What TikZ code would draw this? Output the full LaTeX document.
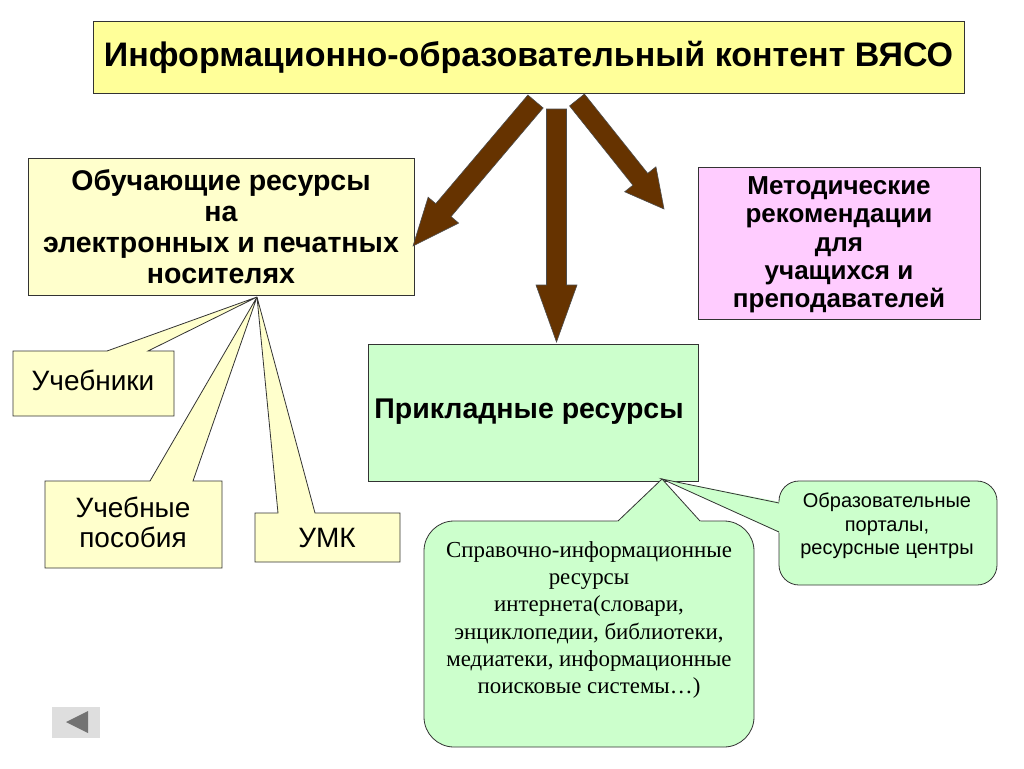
\documentclass[tikz,border=0pt]{standalone}
\usepackage{fontspec}
\setmainfont{Liberation Sans}
\newfontfamily\seriffont{Liberation Serif}
\usetikzlibrary{calc}
\definecolor{ttl}{HTML}{FFFF99}
\definecolor{pale}{HTML}{FFFFCC}
\definecolor{pinkb}{HTML}{FFCCFF}
\definecolor{greenb}{HTML}{CCFFCC}
\definecolor{brownA}{HTML}{663300}
\begin{document}
\begin{tikzpicture}[x=1pt,y=-1pt,
  box/.style={draw=black!80, line width=0.8pt, inner sep=0pt, align=center},
  callout/.style={fill=pale, draw=black!80, line width=0.8pt},
  bubble/.style={fill=greenb, draw=black!80, line width=0.8pt},
  blockarr/.style={fill=brownA, draw=black!70, line width=0.6pt},
  txt/.style={inner sep=0pt, align=center}]
\useasboundingbox (0,0) rectangle (1024,768);
\fill[white] (0,0) rectangle (1024,768);

% title
\node[box, fill=ttl, minimum width=871, minimum height=72,
  font=\bfseries\fontsize{34}{38}\selectfont] (title) at (528.5,57)
  {Информационно-образовательный контент ВЯСО};

% main boxes
\node[box, fill=pale, minimum width=386, minimum height=137,
  font=\bfseries\fontsize{28.5}{31}\selectfont] (learn) at (221,226.5)
  {Обучающие ресурсы\\на\\электронных и печатных\\носителях};
\node[box, fill=pinkb, minimum width=282, minimum height=152] (method) at (839,243) {};
\node[txt, font=\bfseries\fontsize{26}{28.3}\selectfont] (methodtxt) at (839,245)
  {Методические\\рекомендации\\для\\учащихся и\\преподавателей};
\node[box, fill=greenb, minimum width=330, minimum height=137] (applied) at (533,412.5) {};
\node[txt, font=\bfseries\fontsize{28.5}{32}\selectfont] (appliedtxt) at (529,412) {Прикладные ресурсы};

% block arrows
\newcommand\blockarrow[5]{%
  \filldraw[blockarr] ($(#1)!#3!90:(#2)$) -- ($($(#2)!#5!(#1)$)!#3!90:(#2)$)
    -- ($($(#2)!#5!(#1)$)!#4!90:(#2)$) -- (#2)
    -- ($($(#2)!#5!(#1)$)!#4!-90:(#2)$) -- ($($(#2)!#5!(#1)$)!#3!-90:(#2)$)
    -- ($(#1)!#3!-90:(#2)$) -- cycle;}
\coordinate (sL) at (535.5,101.5);
\coordinate (tL) at (413,246);
\coordinate (sC) at (556.5,109);
\coordinate (tC) at (556.5,342);
\coordinate (sR) at (577,100);
\coordinate (tR) at (664,209);
\blockarrow{sL}{tL}{10pt}{20pt}{47pt}
\blockarrow{sC}{tC}{10pt}{20.5pt}{57pt}
\blockarrow{sR}{tR}{9.5pt}{20pt}{38pt}

% callouts from learning box
\coordinate (ap1) at (257,297);
\filldraw[callout] (13,351) -- (107,351) -- (ap1) -- (148,351) -- (174,351) -- (174,416) -- (13,416) -- cycle;
\filldraw[callout] (45,481) -- (150,481) -- (ap1) -- (193,481) -- (222,481) -- (222,568) -- (45,568) -- cycle;
\filldraw[callout] (255,513) -- (278,513) -- (ap1) -- (315,513) -- (400,513) -- (400,562) -- (255,562) -- cycle;
\node[txt, font=\fontsize{28}{30}\selectfont] (books) at (93,380) {Учебники};
\node[txt, font=\fontsize{28}{30}\selectfont] (aids) at (133,522) {Учебные\\пособия};
\node[txt, font=\fontsize{28}{30}\selectfont] (umk) at (327,538) {УМК};

% bubbles from applied box
\coordinate (ap2) at (662,479);
\node[bubble, rounded corners=30, minimum width=330, minimum height=226, inner sep=0pt] (ref) at (589,634) {};
\fill[greenb] (617,522.2) -- (ap2) -- (701,522.2) -- cycle;
\draw[black!80, line width=0.8pt] (618,521) -- (ap2) -- (700,521);
\node[txt, font=\seriffont\fontsize{22.9}{27.2}\selectfont] (reftxt) at (589,620)
  {Справочно-информационные\\ресурсы\\интернета(словари,\\энциклопедии, библиотеки,\\медиатеки, информационные\\поисковые системы…)};

\node[bubble, rounded corners=20, minimum width=218, minimum height=104, inner sep=0pt] (portal) at (888,533) {};
\fill[greenb] (780.2,502) -- (ap2) -- (780.2,533) -- cycle;
\draw[black!80, line width=0.8pt] (779,503) -- (ap2) -- (779,532);
\node[txt, font=\fontsize{20}{23.5}\selectfont] (portaltxt) at (887,526)
  {Образовательные\\порталы,\\ресурсные центры};

% back button
\node[fill=black!13, minimum width=48, minimum height=31, inner sep=0pt] (back) at (76,722.5) {};
\fill[black!55] (66,722) -- (88,711) -- (88,733) -- cycle;
\end{tikzpicture}
\end{document}
